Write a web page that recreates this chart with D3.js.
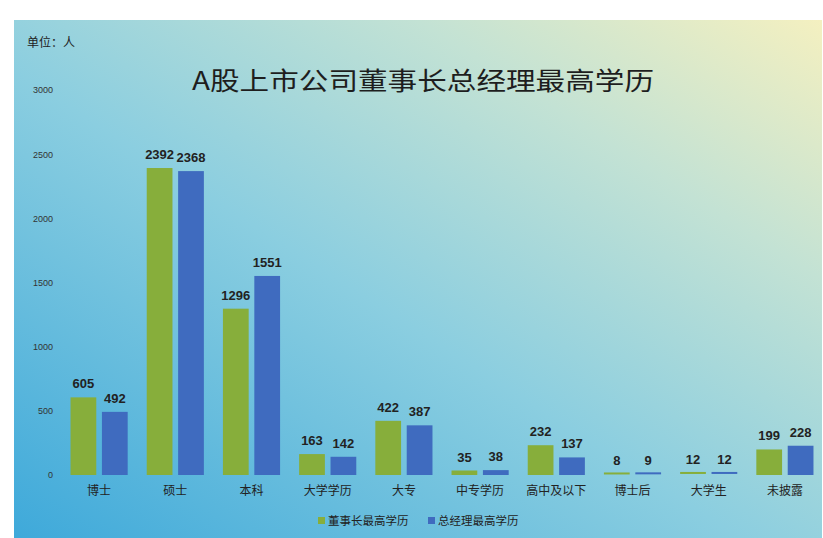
<!DOCTYPE html>
<html>
<head>
<meta charset="utf-8">
<script src="https://cdn.jsdelivr.net/npm/d3@7"></script>
<style>
  body { margin: 0; background: #fff; }
  text { font-family: "Noto Sans CJK SC", "Noto Sans", sans-serif; }
</style>
</head>
<body>
<svg id="chart" width="823" height="538"></svg>
<script>
// Chart data
const categories = ["博士", "硕士", "本科", "大学学历", "大专", "中专学历", "高中及以下", "博士后", "大学生", "未披露"]
const seriesNames = ["董事长最高学历", "总经理最高学历"]
const chairmanValues = [605, 2392, 1296, 163, 422, 35, 232, 8, 12, 199]
const managerValues = [492, 2368, 1551, 142, 387, 38, 137, 9, 12, 228]
const yTicks = [0, 500, 1000, 1500, 2000, 2500, 3000]

const colors = ["#87ae3b", "#3f6bbf"]

const svg = d3.select("#chart")

// Background gradient of the panel (blue bottom-left to cream top-right)
const grad = svg.append("defs").append("linearGradient")
  .attr("id", "bg")
  .attr("x1", 0).attr("y1", 1).attr("x2", 1).attr("y2", 0)
grad.append("stop").attr("offset", 0).attr("stop-color", "#3ea9da")
grad.append("stop").attr("offset", 0.45).attr("stop-color", "#8bcee0")
grad.append("stop").attr("offset", 0.75).attr("stop-color", "#c3e2d4")
grad.append("stop").attr("offset", 1).attr("stop-color", "#f4f0c0")

svg.append("rect")
  .attr("x", 14).attr("y", 20)
  .attr("width", 808).attr("height", 518)
  .attr("fill", "url(#bg)")

// Scales
const x0 = d3.scaleBand().domain(categories).range([61, 823]).paddingInner(0.25).paddingOuter(0.125)
const x1 = d3.scaleBand().domain([0, 1]).range([0, x0.bandwidth()]).paddingInner(0.18)
const y = d3.scaleLinear().domain([0, 3000]).range([475, 90])

// Y axis labels only, no line and no grid
const yAxis = svg.append("g")
  .attr("transform", "translate(53,0)")
  .call(d3.axisLeft(y).tickValues(yTicks).tickFormat(d3.format("d")).tickSize(0).tickPadding(0))
yAxis.select(".domain").remove()
yAxis.selectAll("text")
  .attr("fill", "#333")
  .style("font-size", "9px")
  .style("font-family", "'Liberation Sans', sans-serif")

// Category labels
const xAxis = svg.append("g")
  .attr("transform", "translate(0,475)")
  .call(d3.axisBottom(x0).tickSize(0).tickPadding(11))
xAxis.select(".domain").remove()
xAxis.selectAll("text")
  .attr("fill", "#222")
  .style("font-size", "12px")
  .style("font-family", "'Noto Sans CJK SC', sans-serif")

// Rows of {category, series index, value}
const rows = categories.flatMap((c, i) => [
  { cat: c, s: 0, value: chairmanValues[i] },
  { cat: c, s: 1, value: managerValues[i] }
])

// Bars
svg.append("g")
  .selectAll("rect")
  .data(rows)
  .enter()
  .append("rect")
  .attr("x", d => x0(d.cat) + x1(d.s))
  .attr("y", d => y(d.value) - (d.value < 15 ? 1.5 : 0))
  .attr("width", x1.bandwidth())
  .attr("height", d => Math.max(y(0) - y(d.value), 2))
  .attr("fill", d => colors[d.s])

// Value labels above each bar
svg.append("g")
  .selectAll("text")
  .data(rows)
  .enter()
  .append("text")
  .attr("x", d => x0(d.cat) + x1(d.s) + x1.bandwidth() / 2)
  .attr("y", d => y(d.value) - 9)
  .attr("text-anchor", "middle")
  .attr("fill", "#222")
  .style("font-size", "13px")
  .style("font-weight", "bold")
  .style("font-family", "'Liberation Sans', sans-serif")
  .text(d => d.value)

// Title
svg.append("text")
  .attr("x", 423).attr("y", 90)
  .attr("text-anchor", "middle")
  .attr("textLength", 462)
  .attr("lengthAdjust", "spacingAndGlyphs")
  .attr("fill", "#1e1e1e")
  .style("font-size", "25px")
  .text("A股上市公司董事长总经理最高学历")

// Unit label
svg.append("text")
  .attr("x", 27).attr("y", 47)
  .attr("fill", "#222")
  .style("font-size", "12px")
  .text("单位：人")

// Legend
const legend = svg.append("g")
  .selectAll("g")
  .data(seriesNames)
  .enter()
  .append("g")
  .attr("transform", (d, i) => `translate(${318 + i * 110},521)`)
legend.append("rect")
  .attr("x", 0).attr("y", -4)
  .attr("width", 7).attr("height", 7)
  .attr("fill", (d, i) => colors[i])
legend.append("text")
  .attr("x", 10).attr("y", 4)
  .attr("fill", "#222")
  .style("font-size", "11.5px")
  .text(d => d)
</script>
</body>
</html>
